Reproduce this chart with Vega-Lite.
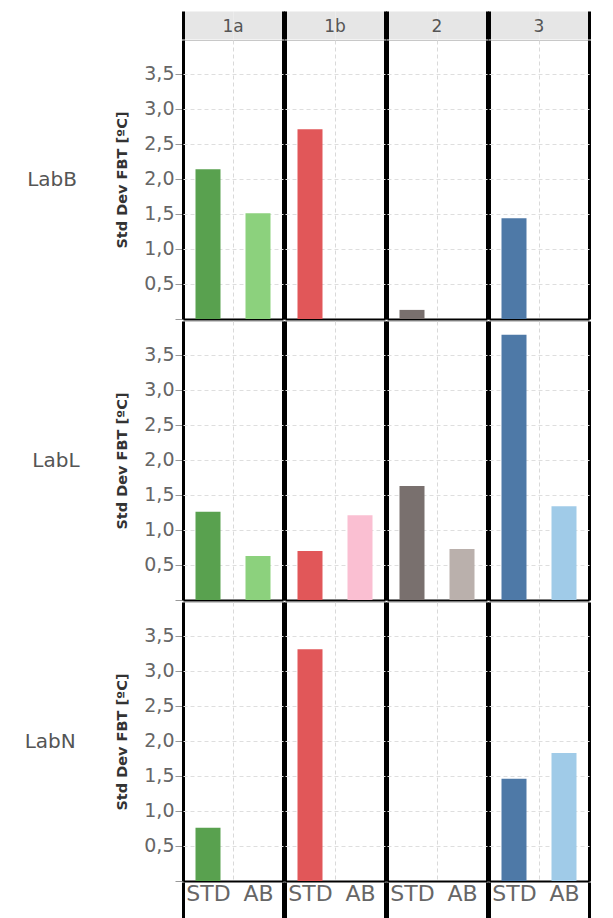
{
  "$schema": "https://vega.github.io/schema/vega-lite/v6.json",
  "background": "white",
  "padding": {"left": 24, "top": -14, "right": 5, "bottom": 5},
  "data": {
    "values": [
      {"lab": "LabB", "col": "1a", "sub": "STD", "grp": "1a STD", "value": 2.14},
      {"lab": "LabB", "col": "1a", "sub": "AB", "grp": "1a AB", "value": 1.51},
      {"lab": "LabB", "col": "1b", "sub": "STD", "grp": "1b STD", "value": 2.71},
      {"lab": "LabB", "col": "1b", "sub": "AB", "grp": "1b AB", "value": null},
      {"lab": "LabB", "col": "2", "sub": "STD", "grp": "2 STD", "value": 0.13},
      {"lab": "LabB", "col": "2", "sub": "AB", "grp": "2 AB", "value": null},
      {"lab": "LabB", "col": "3", "sub": "STD", "grp": "3 STD", "value": 1.44},
      {"lab": "LabB", "col": "3", "sub": "AB", "grp": "3 AB", "value": null},
      {"lab": "LabL", "col": "1a", "sub": "STD", "grp": "1a STD", "value": 1.26},
      {"lab": "LabL", "col": "1a", "sub": "AB", "grp": "1a AB", "value": 0.63},
      {"lab": "LabL", "col": "1b", "sub": "STD", "grp": "1b STD", "value": 0.70},
      {"lab": "LabL", "col": "1b", "sub": "AB", "grp": "1b AB", "value": 1.21},
      {"lab": "LabL", "col": "2", "sub": "STD", "grp": "2 STD", "value": 1.63},
      {"lab": "LabL", "col": "2", "sub": "AB", "grp": "2 AB", "value": 0.73},
      {"lab": "LabL", "col": "3", "sub": "STD", "grp": "3 STD", "value": 3.79},
      {"lab": "LabL", "col": "3", "sub": "AB", "grp": "3 AB", "value": 1.34},
      {"lab": "LabN", "col": "1a", "sub": "STD", "grp": "1a STD", "value": 0.76},
      {"lab": "LabN", "col": "1a", "sub": "AB", "grp": "1a AB", "value": null},
      {"lab": "LabN", "col": "1b", "sub": "STD", "grp": "1b STD", "value": 3.31},
      {"lab": "LabN", "col": "1b", "sub": "AB", "grp": "1b AB", "value": null},
      {"lab": "LabN", "col": "2", "sub": "STD", "grp": "2 STD", "value": null},
      {"lab": "LabN", "col": "2", "sub": "AB", "grp": "2 AB", "value": null},
      {"lab": "LabN", "col": "3", "sub": "STD", "grp": "3 STD", "value": 1.46},
      {"lab": "LabN", "col": "3", "sub": "AB", "grp": "3 AB", "value": 1.83}
    ]
  },
  "facet": {
    "row": {
      "field": "lab", "type": "nominal", "sort": ["LabB", "LabL", "LabN"],
      "header": {"title": null, "labelAngle": 0, "labelOrient": "left", "labelFontSize": 20, "labelColor": "#555555", "labelFont": "DejaVu Sans", "labelPadding": -12}
    },
    "column": {
      "field": "col", "type": "nominal", "sort": ["1a", "1b", "2", "3"],
      "header": {"title": null, "labelFontSize": 17, "labelColor": "#555555", "labelFont": "DejaVu Sans", "labelPadding": -50}
    }
  },
  "spacing": 0,
  "spec": {
    "width": 100,
    "height": 279,
    "encoding": {
      "y": {
        "field": "value", "type": "quantitative",
        "scale": {"domain": [0, 3.985], "nice": false, "zero": true},
        "axis": {
          "title": "Std Dev FBT [ºC]",
          "titleFontSize": 14.5, "titleFontWeight": "bold", "titleColor": "#333333", "titleFont": "DejaVu Sans", "titlePadding": 14,
          "values": [0, 0.5, 1, 1.5, 2, 2.5, 3, 3.5],
          "labelExpr": "datum.value == 0 ? '' : replace(format(datum.value, '.1f'), '.', ',')",
          "labelOverlap": false,
          "labelFontSize": 19, "labelColor": "#666666", "labelFont": "DejaVu Sans", "labelPadding": 1,
          "domain": false, "tickColor": "#999999", "tickSize": 7,
          "grid": true,
          "gridColor": {"condition": {"test": "datum.value == 0", "value": "#000000"}, "value": "#dedede"},
          "gridWidth": {"condition": {"test": "datum.value == 0", "value": 2}, "value": 1},
          "gridDash": {"condition": {"test": "datum.value == 0", "value": []}, "value": [4, 3]}
        }
      }
    },
    "layer": [
      {
        "mark": {"type": "bar", "width": {"band": 0.5}, "invalid": "show"},
        "encoding": {
          "x": {
            "field": "sub", "type": "nominal", "sort": ["STD", "AB"],
            "scale": {"paddingInner": 0, "paddingOuter": 0},
            "axis": {
              "orient": "bottom", "title": null, "labelAngle": 0, "labelFontSize": 22, "labelColor": "#666666", "labelFont": "DejaVu Sans",
              "labelPadding": -36, "domain": false, "tickBand": "extent", "tickSize": 37,
              "tickColor": "#000000",
              "tickWidth": 3,
              "tickOpacity": {"condition": {"test": "datum.value === 'STD'", "value": 0}, "value": 1},
              "grid": true,
              "gridColor": {"condition": {"test": "datum.value === 'STD'", "value": "#d9d9d9"}, "value": "#000000"},
              "gridWidth": {"condition": {"test": "datum.value === 'STD'", "value": 1}, "value": 3},
              "gridDash": {"condition": {"test": "datum.value === 'STD'", "value": [4, 3]}, "value": []}
            }
          },
          "color": {
            "field": "grp", "type": "nominal", "legend": null,
            "scale": {
              "domain": ["1a STD", "1a AB", "1b STD", "1b AB", "2 STD", "2 AB", "3 STD", "3 AB"],
              "range": ["#59a14f", "#8cd17d", "#e15759", "#fabfd2", "#79706e", "#bab0ac", "#4e79a7", "#a0cbe8"]
            }
          }
        }
      },
      {
        "mark": {"type": "bar", "opacity": 0, "invalid": "show"},
        "encoding": {
          "x": {
            "field": "sub", "type": "nominal", "sort": ["STD", "AB"],
            "axis": {"orient": "top", "title": null, "labels": false, "domain": false, "grid": false, "tickSize": 28, "tickWidth": 50, "tickColor": "#e6e6e6", "tickCap": "butt"}
          }
        }
      },
      {
        "mark": {"type": "bar", "opacity": 0, "invalid": "show"},
        "encoding": {
          "x": {
            "field": "sub", "type": "nominal", "sort": ["STD", "AB"],
            "axis": {
              "orient": "top", "title": null, "labels": false, "domain": false, "grid": false, "tickBand": "extent", "tickSize": 28, "tickWidth": 3, "tickColor": "#000000",
              "tickOpacity": {"condition": {"test": "datum.value === 'STD'", "value": 0}, "value": 1}
            }
          }
        }
      }
    ],
    "resolve": {"axis": {"x": "independent"}}
  },
  "config": {
    "font": "DejaVu Sans",
    "view": {"stroke": "#c8c8c8", "strokeWidth": 1},
    "axis": {"titleFontSize": 14.5, "titleFontWeight": "bold", "titleColor": "#333333", "titleFont": "DejaVu Sans"}
  }
}
